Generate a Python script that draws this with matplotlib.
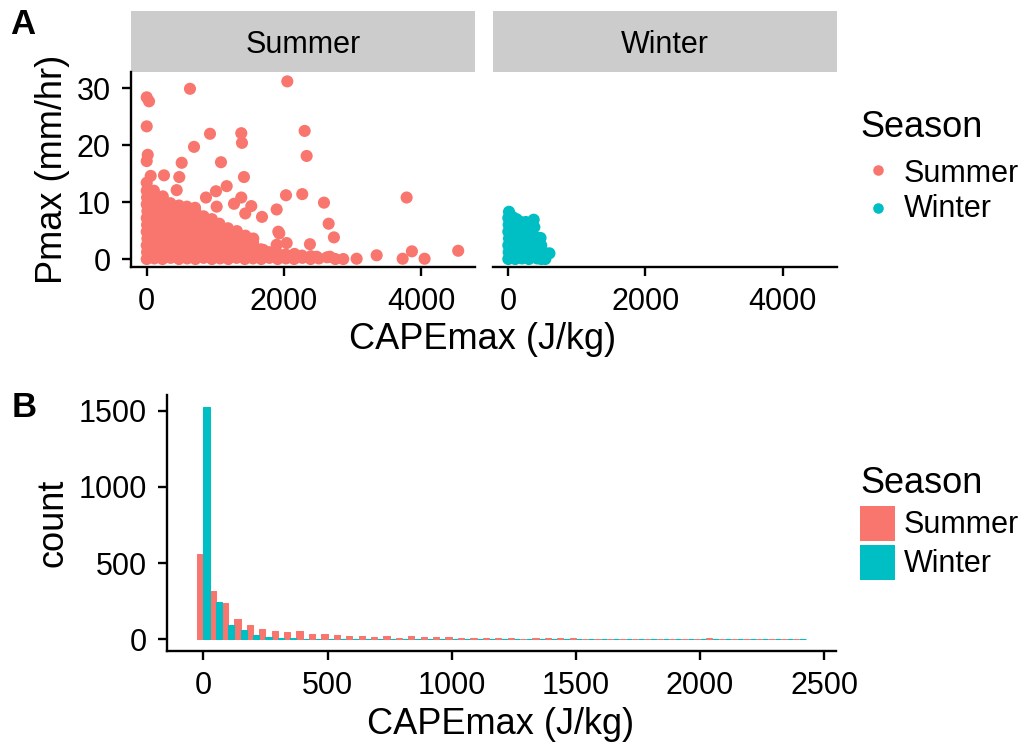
import numpy as np
import matplotlib
matplotlib.use("Agg")
import matplotlib.pyplot as plt
from matplotlib.patches import Rectangle
from matplotlib.lines import Line2D

plt.rcParams['font.family'] = ['Liberation Sans', 'DejaVu Sans']

SUMMER = '#F8766D'
WINTER = '#00BFC4'
seasons = ['Summer', 'Winter']

# ---- Panel A: hourly maximum precipitation vs maximum CAPE ----
summer_cape = [
    0, 5, 0, 10, 0, 5, 0, 10, 0, 5, 0, 0,
    110, 120, 105, 115, 110, 125, 100, 115, 110, 120, 105,
    230, 225, 240, 230, 235, 220, 230, 245, 230, 235,
    350, 345, 360, 350, 355, 340, 350, 360, 345,
    470, 475, 460, 470, 480, 465, 470, 475, 470,
    590, 585, 600, 590, 595, 580, 590, 600, 585,
    710, 715, 700, 710, 720, 705, 710, 715, 705,
    830, 825, 840, 830, 835, 820, 830,
    950, 955, 940, 950, 960, 945, 950,
    1070, 1065, 1080, 1070, 1075, 1060,
    1190, 1195, 1180, 1190, 1200, 1185,
    1310, 1305, 1320, 1310, 1315,
    1430, 1435, 1420, 1430, 1440,
    1550, 1545, 1560, 1550,
    1670, 1675, 1665,
    1790, 1785, 1910, 1915, 2030, 2025, 2150, 2155, 2270, 2265, 2390, 2395,
    2510, 2630, 2750,
    2050, 631, 0, 34, 0, 923, 1379, 1389, 2303, 2332, 690, 15, 0, 510, 1083,
    252, 475, 58, 1418, 1166, 1010, 437, 864, 1379, 2031, 2268, 3790, 2585,
    1273, 1525, 1895, 1437, 1681, 2653, 1933, 2730, 2380, 4542, 3867, 3353,
    3732, 4052, 3061, 2866, 2672, 2478, 1020, 2041, 1895, 1700, 1554, 1919,
]
summer_pmax = [
    0, 1.2, 2.4, 3.6, 4.8, 6.0, 7.2, 8.4, 9.6, 10.8, 12.0, 13.4,
    0.1, 1.3, 2.5, 3.7, 4.9, 6.1, 7.3, 8.5, 9.7, 10.9, 12.0,
    0, 1.2, 2.4, 3.6, 4.8, 6.0, 7.2, 8.4, 9.6, 11.0,
    0.2, 1.4, 2.6, 3.8, 5.0, 6.2, 7.4, 8.6, 9.8,
    0, 1.2, 2.4, 3.6, 4.8, 6.0, 7.2, 8.4, 9.4,
    0.1, 1.3, 2.5, 3.7, 4.9, 6.1, 7.3, 8.4, 9.2,
    0, 1.2, 2.4, 3.6, 4.8, 6.0, 7.2, 8.2, 9.0,
    0.2, 1.4, 2.6, 3.8, 5.0, 6.2, 7.5,
    0, 1.2, 2.4, 3.6, 4.8, 6.0, 7.0,
    0.1, 1.3, 2.5, 3.7, 4.9, 6.2,
    0, 1.2, 2.4, 3.6, 4.6, 5.4,
    0.2, 1.4, 2.6, 3.8, 4.9,
    0, 1.2, 2.4, 3.4, 4.1,
    0.1, 1.3, 2.3, 3.0,
    0, 0.9, 1.7,
    0.2, 1.2, 0, 0.9, 0.1, 0.8, 0, 0.9, 0.2, 0.6, 0, 0.5,
    0.1, 0.3, 0,
    31.2, 29.9, 28.4, 27.7, 23.3, 22.0, 22.1, 20.4, 22.5, 18.1, 19.7, 18.3, 17.2, 16.9, 17.0,
    14.7, 14.4, 14.6, 14.4, 12.8, 11.9, 12.1, 10.8, 10.8, 11.2, 11.4, 10.8, 9.9,
    9.7, 9.3, 8.7, 8.0, 7.4, 6.2, 4.5, 3.8, 2.6, 1.45, 1.35, 0.65,
    0.05, 0.05, 0.05, 0.0, 0.4, 0.4, 9.2, 2.8, 2.5, 1.6, 3.6, 4.8,
]
winter_cape = [
    0, 5, 0, 10, 0, 5, 0, 10,
    50, 55, 50, 60, 50, 55, 60,
    100, 110, 95, 105, 100, 110, 120,
    150, 155, 150, 160, 150, 165,
    200, 205, 195, 210, 200, 215,
    250, 255, 250, 260, 250, 255,
    300, 290, 305, 300, 310, 295,
    370, 380, 350, 360,
    420, 425, 415, 430, 400, 410,
    470, 480, 470, 480,
    540, 545, 600,
]
winter_pmax = [
    0, 1.2, 2.4, 3.6, 4.8, 6.0, 7.2, 8.3,
    0.6, 1.8, 3.0, 4.2, 5.4, 6.6, 7.4,
    0, 1.2, 2.4, 3.6, 4.8, 6.0, 7.0,
    0.6, 1.8, 3.0, 4.2, 5.4, 6.6,
    0.1, 1.3, 2.5, 3.7, 4.9, 6.3,
    0.6, 1.8, 3.0, 4.2, 5.4, 6.5,
    0, 1.2, 2.4, 3.6, 4.8, 6.2,
    6.9, 5.6, 1.8, 3.0,
    0.1, 1.3, 2.5, 3.7, 0.7, 1.9,
    3.7, 2.4, 1.2, 0,
    0, 1.0, 1.0,
]

# ---- Panel B: histogram of CAPEmax, 50 J/kg bins, dodged by season ----
BIN_WIDTH = 50
bin_centers = np.arange(0, 2401, BIN_WIDTH)
summer_counts = [
    560, 317, 238, 133, 94, 68, 55, 48, 55, 35,
    35, 28, 22, 22, 15, 22, 9, 22, 15, 15,
    15, 9, 12, 12, 6, 8, 3, 8, 8, 8,
    8, 4, 3, 3, 5, 3, 1, 3, 3, 3,
    3, 8, 3, 3, 1, 1, 3, 3, 3,
]
winter_counts = [
    1526, 245, 94, 61, 28, 15, 9, 8, 4, 2,
    1, 0, 0, 0, 0, 0, 0, 0, 0, 0,
    0, 0, 0, 0, 0, 0, 0, 0, 0, 0,
    0, 0, 0, 0, 0, 0, 0, 0, 0, 0,
    0, 0, 0, 0, 0, 0, 0, 0, 0,
]

W, H = 1029, 744
fig = plt.figure(figsize=(W / 100, H / 100), dpi=100)


def px_axes(left, top, right, bottom):
    return fig.add_axes([left / W, 1 - bottom / H, (right - left) / W, (bottom - top) / H])


LW = 1.7
TICK_FS = 22
TITLE_FS = 26


def style(ax, left_axis=True):
    for s in ['top', 'right']:
        ax.spines[s].set_visible(False)
    ax.spines['bottom'].set_linewidth(LW)
    ax.spines['left'].set_linewidth(LW)
    ax.tick_params(axis='both', length=6.7, width=LW, labelsize=TICK_FS, pad=7.8,
                   colors='black')
    if not left_axis:
        ax.spines['left'].set_visible(False)
        ax.tick_params(axis='y', left=False, labelleft=False)
    ax.set_facecolor('none')


# overlay in pixel coordinates for strips, titles, and legends
ov = fig.add_axes([0, 0, 1, 1])
ov.set_xlim(0, W)
ov.set_ylim(H, 0)
ov.axis('off')

xlimA = (-229, 4787)
ylimA = (-1.35, 32.9)
axS = px_axes(131, 71.7, 475, 266.7)
axW = px_axes(492.6, 71.7, 836.6, 266.7)
for ax, cx, cy, col, left in [(axS, summer_cape, summer_pmax, SUMMER, True),
                              (axW, winter_cape, winter_pmax, WINTER, False)]:
    ax.scatter(cx, cy, s=76, color=col, edgecolors='none')
    ax.set_xlim(*xlimA)
    ax.set_ylim(*ylimA)
    ax.set_xticks([0, 2000, 4000])
    ax.set_yticks([0, 10, 20, 30])
    style(ax, left)

# facet strips
for (l, r), name in [((131, 475), 'Summer'), ((492.6, 836.6), 'Winter')]:
    ov.add_patch(Rectangle((l, 11), r - l, 60.7, facecolor='#CCCCCC', edgecolor='none'))
    ov.text((l + r) / 2, 53.3, name, ha='center', va='baseline', fontsize=22)

ov.text(483, 349, 'CAPEmax (J/kg)', ha='center', va='baseline', fontsize=TITLE_FS)
ov.text(52.6, 169, 'Pmax (mm/hr)', ha='center', va='center', rotation=90, fontsize=TITLE_FS)

# Panel B histogram
axB = px_axes(166.7, 395.2, 836, 651)
axB.bar(bin_centers - BIN_WIDTH / 4, summer_counts, width=BIN_WIDTH / 2,
        color=SUMMER, edgecolor=SUMMER, linewidth=0.75)
axB.bar(bin_centers + BIN_WIDTH / 4, winter_counts, width=BIN_WIDTH / 2,
        color=WINTER, edgecolor=WINTER, linewidth=0.75)
axB.set_xlim(-147.5, 2547.5)
axB.set_ylim(-76, 1602)
axB.set_xticks([0, 500, 1000, 1500, 2000, 2500])
axB.set_yticks([0, 500, 1000, 1500])
style(axB)

ov.text(501, 734, 'CAPEmax (J/kg)', ha='center', va='baseline', fontsize=TITLE_FS)
ov.text(52.6, 523, 'count', ha='center', va='center', rotation=90, fontsize=TITLE_FS)

# panel tags
ov.text(10, 34.3, 'A', ha='left', va='baseline', fontsize=25, fontweight='bold')
ov.text(11.7, 417.3, 'B', ha='left', va='baseline', fontsize=25, fontweight='bold')

# legends
ov.text(860.7, 137.3, 'Season', ha='left', va='baseline', fontsize=TITLE_FS)
for yc, yb, name, col in [(170, 181.7, 'Summer', SUMMER), (208.3, 216.7, 'Winter', WINTER)]:
    ov.add_line(Line2D([877.5], [yc], marker='o', markersize=7.6, color=col,
                       markeredgecolor='none', linestyle='none'))
    ov.text(904, yb, name, ha='left', va='baseline', fontsize=TICK_FS)

ov.text(860.7, 492.7, 'Season', ha='left', va='baseline', fontsize=TITLE_FS)
for top, yb, name, col in [(506, 533.3, 'Summer', SUMMER), (545, 571.7, 'Winter', WINTER)]:
    ov.add_patch(Rectangle((860, top), 35, 35, facecolor=col, edgecolor='none'))
    ov.text(904, yb, name, ha='left', va='baseline', fontsize=TICK_FS)

fig.savefig('out.png', dpi=100, facecolor='white')
